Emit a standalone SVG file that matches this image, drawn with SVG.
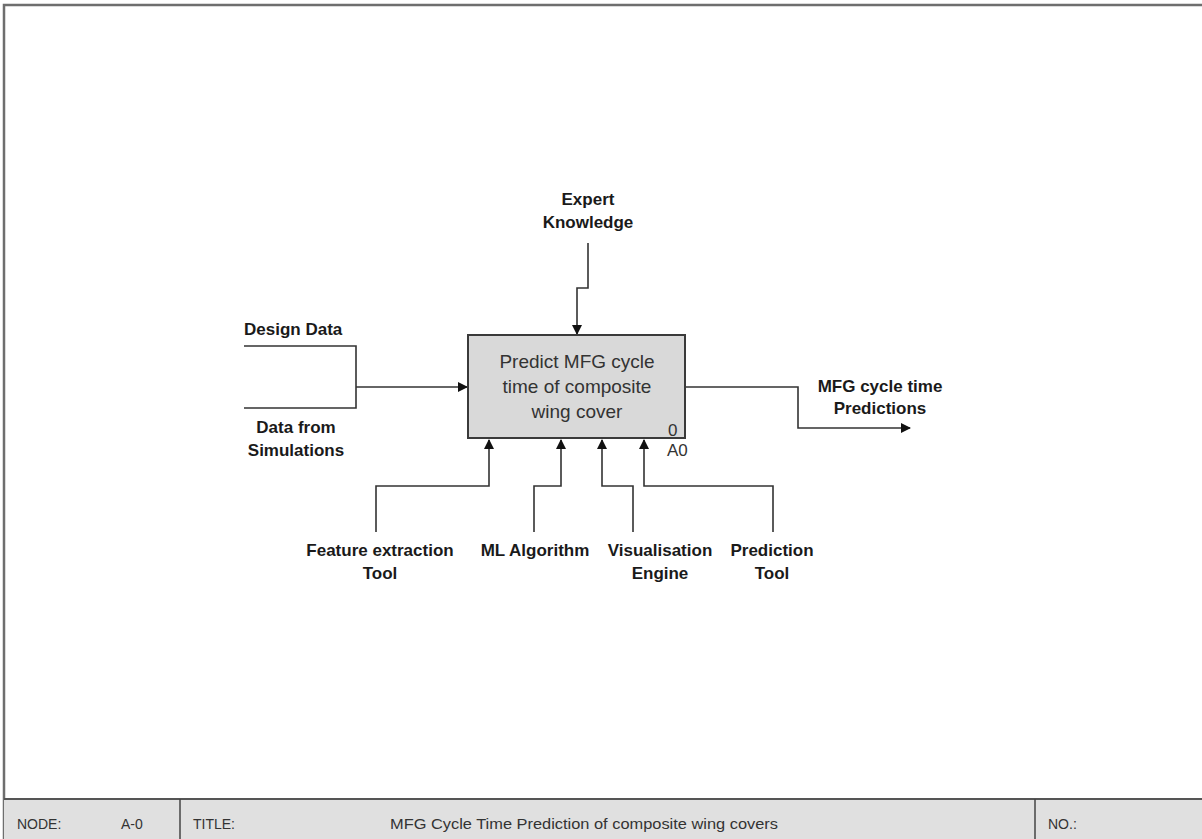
<svg xmlns="http://www.w3.org/2000/svg" width="1202" height="839" viewBox="0 0 1202 839">
<style>
.lbl{font-family:"Liberation Sans",Arial,sans-serif;font-weight:bold;font-size:17px;fill:#1a1a1a;text-anchor:middle}
.box{font-family:"Liberation Sans",Arial,sans-serif;font-size:19px;fill:#333;text-anchor:middle}
.num{font-family:"Liberation Sans",Arial,sans-serif;font-size:17px;fill:#333}
.foot{font-family:"Liberation Sans",Arial,sans-serif;font-size:14px;fill:#333}
.conn{fill:none;stroke:#333;stroke-width:1.6}
</style>
<defs>
<marker id="ah" markerWidth="10" markerHeight="10" refX="9" refY="5" orient="auto" markerUnits="userSpaceOnUse">
<path d="M0,0 L10,5 L0,10 z" fill="#111"/>
</marker>
</defs>
<rect x="0" y="0" width="1202" height="839" fill="#fff"/>
<g id="frame">
<path d="M4,839 V5 H1202" fill="none" stroke="#6e6e6e" stroke-width="2.5"/>
<rect x="4" y="799" width="1198" height="40" fill="#e0e0e0"/>
<line x1="4" y1="799" x2="1202" y2="799" stroke="#555" stroke-width="2"/>
<line x1="180" y1="799" x2="180" y2="839" stroke="#444" stroke-width="1.5"/>
<line x1="1035" y1="799" x2="1035" y2="839" stroke="#444" stroke-width="1.5"/>
<text class="foot" x="17" y="829">NODE:</text>
<text class="foot" x="121" y="829">A-0</text>
<text class="foot" x="193" y="829">TITLE:</text>
<text class="foot" x="390" y="829" textLength="388" lengthAdjust="spacingAndGlyphs">MFG Cycle Time Prediction of composite wing covers</text>
<text class="foot" x="1048" y="829">NO.:</text>
</g>
<g id="connectors">
<path class="conn" d="M244,346 H356 V408 H244"/>
<path class="conn" d="M356,387 H467" marker-end="url(#ah)"/>
<path class="conn" d="M588,243 V288 H577 V334" marker-end="url(#ah)"/>
<path class="conn" d="M686,387 H798 V428 H910" marker-end="url(#ah)"/>
<path class="conn" d="M376,532 V486 H489 V440" marker-end="url(#ah)"/>
<path class="conn" d="M534,532 V486 H561 V440" marker-end="url(#ah)"/>
<path class="conn" d="M633,532 V486 H602 V440" marker-end="url(#ah)"/>
<path class="conn" d="M773,532 V486 H644 V440" marker-end="url(#ah)"/>
</g>
<g id="A0">
<rect x="468" y="335" width="217" height="103" fill="#d9d9d9" stroke="#3a3a3a" stroke-width="2"/>
<text class="box" x="577" y="368">Predict MFG cycle</text>
<text class="box" x="577" y="393">time of composite</text>
<text class="box" x="577" y="418">wing cover</text>
<text class="num" x="668" y="436">0</text>
<text class="num" x="667" y="456">A0</text>
</g>
<g id="expert"><text class="lbl" x="588" y="205">Expert</text><text class="lbl" x="588" y="228">Knowledge</text></g>
<g id="design"><text class="lbl" x="244" y="335" style="text-anchor:start">Design Data</text></g>
<g id="sim"><text class="lbl" x="296" y="433">Data from</text><text class="lbl" x="296" y="456">Simulations</text></g>
<g id="output"><text class="lbl" x="880" y="392">MFG cycle time</text><text class="lbl" x="880" y="414">Predictions</text></g>
<g id="feature"><text class="lbl" x="380" y="556">Feature extraction</text><text class="lbl" x="380" y="579">Tool</text></g>
<g id="ml"><text class="lbl" x="535" y="556">ML Algorithm</text></g>
<g id="vis"><text class="lbl" x="660" y="556">Visualisation</text><text class="lbl" x="660" y="579">Engine</text></g>
<g id="pred"><text class="lbl" x="772" y="556">Prediction</text><text class="lbl" x="772" y="579">Tool</text></g>
</svg>
